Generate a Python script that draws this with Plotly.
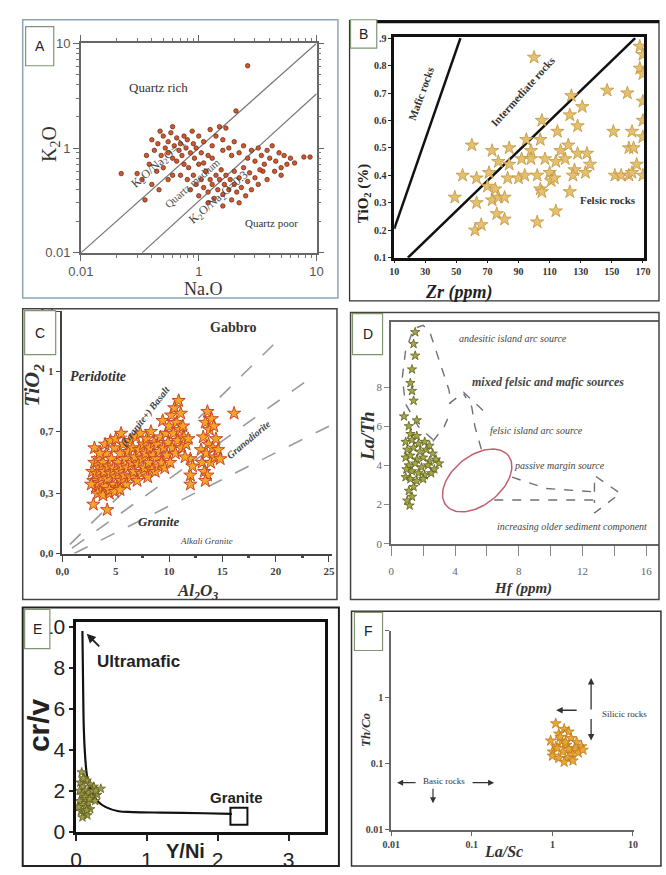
import numpy as np
import plotly.graph_objects as go

W, H = 666, 875
SERIF = "Liberation Serif"
SANS = "Liberation Sans"

# ---------------- data ----------------
# Panel A : K2O vs Na2O
A_na = [0.40,0.42,0.45,0.48,0.50,0.52,0.55,0.55,0.58,0.60,
        0.62,0.65,0.65,0.68,0.70,0.72,0.75,0.75,0.78,0.80,
        0.82,0.85,0.88,0.90,0.92,0.95,1.00,1.00,1.05,1.10,
        1.15,1.20,1.25,1.30,0.38,0.36,0.44,0.50,0.47,0.60,
        1.40,1.50,1.60,1.70,1.80,0.33,0.40,0.46,0.55,0.60,
        0.70,0.35,
        0.80,0.85,0.90,0.95,1.00,1.05,1.10,1.15,1.20,1.25,
        1.30,1.35,1.40,1.45,1.50,1.55,1.60,1.65,1.70,1.80,
        1.85,1.90,2.00,2.00,2.10,2.20,2.30,2.40,2.50,2.60,
        2.70,2.80,3.00,3.20,3.50,3.80,2.20,1.20,1.60,
        2.2,2.4,2.6,2.8,3.0,3.2,3.4,3.6,3.8,4.0,
        4.2,4.5,4.8,5.0,5.3,5.6,6.0,4.4,5.0,3.3,
        6.5,7.8,8.8,1.6,1.9,2.0,1.3,1.1,
        0.22,0.30,2.6,2.07]
A_k = [1.20,0.95,1.10,0.85,1.30,1.00,0.90,1.15,1.40,0.80,
       1.05,1.25,0.75,0.95,1.10,0.85,1.30,0.70,1.00,1.20,
       0.65,0.90,1.45,1.10,0.80,1.00,1.30,0.70,0.90,1.15,
       0.60,0.85,1.50,1.05,0.70,0.85,0.60,0.65,1.45,1.60,
       1.30,1.60,1.20,1.55,1.00,0.50,0.45,0.40,0.50,0.55,
       0.55,0.32,
       0.50,0.40,0.55,0.45,0.35,0.50,0.42,0.60,0.38,0.50,
       0.45,0.33,0.55,0.40,0.50,0.62,0.36,0.45,0.55,0.40,
       0.50,0.32,0.45,0.60,0.38,0.52,0.42,0.65,0.35,0.48,
       0.58,0.40,0.52,0.45,0.60,0.50,0.30,0.30,0.28,
       0.90,1.05,0.80,0.95,0.75,1.00,0.85,0.70,0.95,0.80,
       1.05,0.75,0.90,0.65,0.85,0.70,0.80,0.60,0.55,0.62,
       0.72,0.82,0.82,0.95,0.85,1.15,0.80,0.72,
       0.57,0.57,6.1,2.26]
A_line1_x = [0.1, 10]; A_line1_y = [0.1, 10]
A_line2_x = [0.33, 10]; A_line2_y = [0.1, 3.3]
A_tickvals = [0.1, 1, 10]; A_ticktext = ["0.01", "1", "10"]

# Panel B : TiO2 vs Zr
B_zr = [100,60,54,49,63,63,62,66,71,73,
        77,70,75,73,77,81,76,81,84,84,
        83,90,94,92,98,98,95,102,104,105,
        102,105,104,107,110,111,113,115,114,117,
        114,120,122,123,124,123,126,125,128,128,
        131,133,134,136,147,151,152,156,161,163,
        160,163,161,164,168,170,168,170,170,170,
        170,170,166]
B_ti = [0.83,0.51,0.40,0.32,0.39,0.30,0.20,0.22,0.41,0.49,
        0.45,0.36,0.35,0.31,0.32,0.32,0.26,0.24,0.50,0.44,
        0.39,0.39,0.40,0.46,0.49,0.46,0.53,0.40,0.35,0.34,
        0.23,0.60,0.53,0.46,0.41,0.38,0.39,0.56,0.45,0.49,
        0.27,0.46,0.51,0.62,0.69,0.34,0.42,0.40,0.48,0.58,
        0.65,0.41,0.48,0.44,0.71,0.56,0.40,0.40,0.40,0.41,
        0.70,0.56,0.50,0.50,0.87,0.84,0.79,0.77,0.67,0.60,
        0.54,0.40,0.44]
B_mafic_x = [10, 52.6]; B_mafic_y = [0.205, 0.9]
B_felsic_x = [18.8, 165]; B_felsic_y = [0.1, 0.9]
B_ticks_x = [10, 30, 50, 70, 90, 110, 130, 150, 170]
B_ticks_y = [0.1, 0.2, 0.3, 0.4, 0.5, 0.6, 0.7, 0.8, 0.9]
B_ticktext_y = ["0.1", "0.2", "0.3", "0.4", "0.5", "0.6", "0.7", "0.8", ".9"]

# Panel C : TiO2 vs Al2O3
C_al = [2.8,2.9,3.0,3.1,3.2,3.3,3.4,3.5,3.6,3.7,3.8,3.9,4.0,4.1,4.2,4.3,4.4,4.5,4.6,4.7,
        4.8,4.9,5.0,5.1,5.2,5.3,5.4,5.5,5.6,5.7,5.8,5.9,6.0,
        3.0,3.5,4.0,4.5,5.0,5.5,2.7,3.3,3.8,4.4,4.9,5.4,
        6.1,6.2,6.3,6.4,6.5,6.6,6.7,6.8,6.9,7.0,7.1,7.2,7.3,7.4,7.5,7.6,7.7,7.8,7.9,8.0,
        8.1,8.2,8.3,8.4,8.5,8.6,8.7,8.8,8.9,9.0,9.1,9.2,9.3,9.4,9.5,9.6,9.7,9.8,9.9,10.0,
        10.1,10.2,10.3,10.4,10.5,10.6,10.7,10.8,10.9,11.0,11.1,11.2,11.3,11.4,11.6,11.8,
        12.0,12.0,12.0,12.2,11.5,
        13.0,13.1,13.2,13.3,13.4,13.5,13.6,13.6,13.7,13.8,13.9,14.0,14.1,14.2,14.3,14.4,
        14.6,14.8,13.4,
        2.9,4.2,16.1]
C_ti = [0.45,0.40,0.50,0.36,0.44,0.52,0.39,0.47,0.34,0.42,0.50,0.45,0.37,0.55,0.41,0.48,0.33,0.44,0.52,0.38,
        0.47,0.58,0.42,0.36,0.50,0.45,0.55,0.40,0.48,0.60,0.43,0.52,0.38,
        0.58,0.55,0.60,0.62,0.63,0.66,0.38,0.33,0.32,0.35,0.34,0.35,
        0.47,0.56,0.62,0.42,0.50,0.58,0.45,0.53,0.64,0.40,0.49,0.57,0.66,0.44,0.52,0.60,0.47,0.55,0.63,0.42,
        0.50,0.58,0.67,0.46,0.54,0.61,0.45,0.52,0.60,0.48,0.56,0.64,0.50,0.73,0.58,0.47,0.66,0.54,0.61,0.70,
        0.50,0.76,0.58,0.66,0.80,0.55,0.72,0.62,0.84,0.68,0.77,0.58,0.70,0.64,0.60,0.63,
        0.52,0.43,0.38,0.48,0.53,
        0.57,0.50,0.64,0.45,0.72,0.55,0.78,0.43,0.60,0.68,0.50,0.74,0.58,0.70,0.53,0.63,
        0.57,0.52,0.40,
        0.27,0.24,0.77]
C_line1_x = [0.7, 20.7]; C_line1_y = [0.05, 1.2]
C_line2_x = [0.9, 23.4]; C_line2_y = [0.03, 0.97]
C_line3_x = [1.1, 25.0]; C_line3_y = [0.0, 0.70]
C_ticks_x = [0, 5, 10, 15, 20, 25]; C_ticktext_x = ["0,0", "5", "10", "15", "20", "25"]
C_ticks_y = [0, 0.33, 0.67, 1.0, 1.33]; C_ticktext_y = ["0,0", "0,3", "0,7", "1", "1,3"]

# Panel D : La/Th vs Hf
D_hf = [1.5,1.4,1.5,1.3,1.2,1.4,1.3,0.8,1.6,1.1,1.2,
        0.9,1.3,1.7,2.1,1.0,1.4,1.8,2.2,2.6,0.9,1.2,1.6,2.0,2.4,2.8,
        1.1,1.5,1.9,2.3,2.7,3.0,1.3,1.7,2.1,2.5,0.9,1.2,1.6,2.0,
        1.4,1.1,1.3,1.0,1.15,1.6,2.4,0.95]
D_lath = [10.8,10.2,9.6,8.9,8.2,7.3,7.8,6.5,6.3,6.0,5.6,
          5.2,5.3,5.1,5.2,4.8,4.9,4.7,4.8,4.6,4.4,4.5,4.3,4.4,4.2,4.3,
          4.0,4.1,3.9,4.0,3.8,4.1,3.7,3.6,3.5,3.6,3.4,3.3,3.2,3.3,
          2.9,2.7,2.4,2.2,1.95,5.5,5.0,3.8]
D_andesitic_x = [2.61,1.70,0.89,0.69,0.89,1.40,2.00,2.41,2.82,3.22,3.63,3.73]
D_andesitic_y = [5.32,5.98,7.15,8.48,9.82,10.98,11.15,10.82,9.82,8.82,7.82,7.15]
D_mixed_x = [2.61,3.32,3.73]; D_mixed_y = [5.23,5.98,6.73]
D_felsic_x = [5.65,5.25,5.05,4.54]; D_felsic_y = [4.82,5.98,6.98,7.65]
D_felsic_head_x = [3.63,4.54,5.86]; D_felsic_head_y = [7.15,7.73,6.73]
D_upper_x = [7.58,9.71,12.75]; D_upper_y = [3.40,2.82,2.65]
D_lower_x = [6.46,12.75]; D_lower_y = [2.23,2.23]
D_head_x = [12.75,12.75,14.37,12.75,12.75]; D_head_y = [2.65,3.48,2.57,1.57,2.23]
D_ellipse_center = (5.39, 3.23)
D_ticks_x = [0, 4, 8, 12, 16]; D_ticks_y = [0, 2, 4, 6, 8]

# Panel E : Cr/V vs Y/Ni
E_yni = [0.08,0.12,0.06,0.15,0.20,0.10,0.25,0.05,0.13,0.18,
         0.30,0.08,0.22,0.12,0.05,0.17,0.27,0.09,0.14,0.20,
         0.07,0.11,0.16,0.09,0.13,0.23,0.04,0.19,0.10,0.28,
         0.35,0.15]
E_crv = [2.9,2.6,2.4,2.5,2.3,2.2,2.2,2.0,2.0,1.9,
         1.8,1.8,1.7,1.6,1.5,1.4,1.5,1.3,1.2,1.1,
         1.0,0.9,0.8,0.7,1.7,2.0,1.2,1.6,2.6,2.0,
         2.1,1.05]
E_curve_x = [0.09,0.10,0.11,0.13,0.16,0.22,0.30,0.42,0.60,0.80,1.20,1.80,2.20]
E_curve_y = [9.8,7.0,5.0,3.6,2.6,1.9,1.5,1.2,1.0,0.96,0.93,0.90,0.87]
E_granite_x = [2.3]; E_granite_y = [0.75]
E_ticks_x = [0, 1, 2, 3]; E_ticks_y = [0, 2, 4, 6, 8, 10]

# Panel F : Th/Co vs La/Sc
F_lasc = [1.10,1.40,1.20,1.60,0.95,1.30,1.70,2.00,1.10,1.50,
          1.90,2.30,1.00,1.35,1.75,2.10,1.20,1.55,1.40,1.80,
          1.00,1.25,1.60,1.45,2.40,1.15]
F_thco = [0.40,0.33,0.28,0.30,0.22,0.22,0.24,0.21,0.18,0.19,
          0.17,0.18,0.15,0.15,0.14,0.145,0.12,0.12,0.105,0.11,
          0.13,0.25,0.165,0.21,0.16,0.17]
F_ticks = [0.01, 0.1, 1, 10]
F_ticktext_x = ["0.01", "0.1", "1", "10"]
F_ticktext_y = ["0.01", "0.1", "1", ""]

# ---------------- helpers ----------------
def X(p):
    return p / W


def Y(p):
    return 1 - p / H


fig = go.Figure()
shapes = []
anns = []


def rect(x0, y0, x1, y1, color, width, fill="rgba(0,0,0,0)"):
    shapes.append(dict(type="rect", xref="paper", yref="paper", x0=X(x0), x1=X(x1),
                       y0=Y(y1), y1=Y(y0), line=dict(color=color, width=width),
                       fillcolor=fill, layer="above"))


def hline(x0, x1, y, color, width):
    shapes.append(dict(type="line", xref="paper", yref="paper", x0=X(x0), x1=X(x1),
                       y0=Y(y), y1=Y(y), line=dict(color=color, width=width), layer="above"))


def text(x, y, t, size=12, family=SERIF, color="#222", angle=0, weight="normal",
         style="normal", xanchor="center"):
    anns.append(dict(x=X(x), y=Y(y), xref="paper", yref="paper", text=t, showarrow=False,
                     textangle=angle, xanchor=xanchor, yanchor="middle",
                     font=dict(family=family, size=size, color=color, weight=weight, style=style)))


def arrow(x1, y1, x0, y0, color="#222", width=1.2, head=2, size=1):
    anns.append(dict(x=X(x1), y=Y(y1), xref="paper", yref="paper", ax=x0 - x1, ay=y0 - y1,
                     text="", showarrow=True, arrowhead=head, arrowsize=size,
                     arrowcolor=color, arrowwidth=width))


def sc(i, **kw):
    s = "" if i == 1 else str(i)
    fig.add_trace(go.Scatter(xaxis="x" + s, yaxis="y" + s, showlegend=False,
                             hoverinfo="skip", **kw))


def axes(i, xd, yd, xa, ya):
    s = "" if i == 1 else str(i)
    xa.update(domain=[X(xd[0]), X(xd[1])], anchor="y" + s, showgrid=False, zeroline=False)
    ya.update(domain=[Y(yd[1]), Y(yd[0])], anchor="x" + s, showgrid=False, zeroline=False)
    layout_axes["xaxis" + s] = xa
    layout_axes["yaxis" + s] = ya


layout_axes = {}
log_minor = [0.2, 0.3, 0.4, 0.5, 0.6, 0.7, 0.8, 0.9, 2, 3, 4, 5, 6, 7, 8, 9]

# ---------------- Panel A ----------------
fA = dict(family=SANS, size=13, color="#555")
axA = dict(type="log", range=[-1, 1], tickvals=A_tickvals, ticktext=A_ticktext,
           ticks="outside", ticklen=6, tickcolor="#666", showline=True, linecolor="#666",
           linewidth=1.5, mirror="allticks", tickfont=fA,
           minor=dict(tickvals=log_minor, ticks="outside", ticklen=3, tickcolor="#777"))
axes(1, (70, 313), (37, 251), dict(axA), dict(axA))
sc(1, x=A_line1_x, y=A_line1_y, mode="lines", line=dict(color="#777", width=1.2))
sc(1, x=A_line2_x, y=A_line2_y, mode="lines", line=dict(color="#777", width=1.2))
sc(1, x=A_na, y=A_k, mode="markers",
   marker=dict(size=4.5, color="#d4572b", line=dict(color="#5b2514", width=0.7)))
text(38, 140, "K<sub>2</sub>O", size=20, color="#333", angle=-90)
text(196, 288, "Na.O", size=18, color="#333")
text(150, 82, "Quartz rich", size=13, color="#333")
text(267, 221, "Quartz poor", size=11, color="#333")
text(150, 160, "K<sub>2</sub>O/Na<sub>2</sub>O= 1", size=12, color="#444", angle=-41)
text(185, 180, "Quartz medium", size=11, color="#555", angle=-41)
text(212, 195, "K<sub>2</sub>O/Na<sub>2</sub>O=0.3", size=12, color="#444", angle=-41)

# ---------------- Panel B ----------------
fB = dict(family=SERIF, size=10, color="#333", weight="bold")
axes(2, (393, 651), (31, 256),
     dict(range=[10, 171], tickvals=B_ticks_x, ticks="outside", ticklen=3, tickcolor="#222",
          showline=True, linecolor="#111", linewidth=2.5, mirror=True, tickfont=fB),
     dict(range=[0.1, 0.903], tickvals=B_ticks_y, ticktext=B_ticktext_y, ticks="outside",
          ticklen=3, tickcolor="#222", showline=True, linecolor="#111", linewidth=2.5,
          mirror=True, tickfont=fB))
sc(2, x=B_mafic_x, y=B_mafic_y, mode="lines", line=dict(color="#111", width=2.5))
sc(2, x=B_felsic_x, y=B_felsic_y, mode="lines", line=dict(color="#111", width=2.5))
sc(2, x=B_zr, y=B_ti, mode="markers",
   marker=dict(symbol="star", size=10, color="#e4c070", line=dict(color="#c0953c", width=0.8)))
text(362, 190, "TiO<sub>2</sub> (%)", size=15, weight="bold", angle=-90, color="#222")
text(460, 292, "Zr (ppm)", size=18, weight="bold", style="italic", color="#222")
text(421, 88, "Mafic rocks", size=11, weight="bold", angle=-70, color="#333")
text(526, 86, "Intermediate rocks", size=11, weight="bold", angle=-48, color="#333")
text(613, 197, "Felsic rocks", size=11, weight="bold", color="#333")

# ---------------- Panel C ----------------
fC = dict(family=SERIF, size=11, color="#444", weight="bold")
axes(3, (51, 329), (310, 558),
     dict(range=[0, 25.3], tickvals=C_ticks_x, ticktext=C_ticktext_x, ticks="outside",
          ticklen=7, tickcolor="#444", showline=True, linecolor="#444", linewidth=1.5,
          tickfont=fC, minor=dict(tickvals=[2.5, 7.5, 12.5, 17.5, 22.5], ticks="outside",
                                  ticklen=3, tickwidth=3, tickcolor="#444")),
     dict(range=[0, 1.335], tickvals=C_ticks_y, ticktext=C_ticktext_y, ticks="outside",
          ticklen=5, tickcolor="#444", showline=True, linecolor="#444", linewidth=1.5,
          tickfont=fC))
for lx, ly in ((C_line1_x, C_line1_y), (C_line2_x, C_line2_y), (C_line3_x, C_line3_y)):
    sc(3, x=lx, y=ly, mode="lines", line=dict(color="#9a9a9a", width=1.6, dash="longdash"))
sc(3, x=C_al, y=C_ti, mode="markers",
   marker=dict(symbol="star", size=10, color="#f5a524", line=dict(color="#c8452a", width=1)))
text(21, 386, "TiO<sub>2</sub>", size=22, weight="bold", style="italic", angle=-90, color="#333")
text(190, 597, "Al<sub>2</sub>O<sub>3</sub>", size=17, weight="bold", style="italic", color="#333")
text(227, 327, "Gabbro", size=14, weight="bold", color="#333")
text(88, 377, "Peridotite", size=14, weight="bold", style="italic", color="#333")
text(137, 418, "(Granite+) Basalt", size=10, weight="bold", style="italic", angle=-52, color="#444")
text(243, 442, "Granodiorite", size=10, weight="bold", style="italic", angle=-40, color="#444")
text(150, 525, "Granite", size=13, weight="bold", style="italic", color="#333")
text(200, 545, "Alkali Granite", size=9, style="italic", color="#444")

# ---------------- Panel D ----------------
fD = dict(family=SERIF, size=11, color="#666")
axes(4, (390, 666), (322, 548),
     dict(range=[0, 16.8], tickvals=D_ticks_x, ticks="outside", ticklen=10, tickcolor="#888",
          showline=True, linecolor="#666", linewidth=2, mirror=True, tickfont=fD,
          ticklabelstandoff=6,
          minor=dict(tickvals=[2, 6, 10, 14], ticks="outside", ticklen=10, tickcolor="#888")),
     dict(range=[0, 11.3], tickvals=D_ticks_y, ticks="outside", ticklen=5, tickcolor="#888",
          showline=True, linecolor="#666", linewidth=2, tickfont=fD))
dash_style = dict(color="#6e7078", width=1.4, dash="dash")
for lx, ly in ((D_andesitic_x, D_andesitic_y), (D_mixed_x, D_mixed_y),
               (D_felsic_x, D_felsic_y), (D_felsic_head_x, D_felsic_head_y),
               (D_upper_x, D_upper_y), (D_lower_x, D_lower_y), (D_head_x, D_head_y)):
    sc(4, x=lx, y=ly, mode="lines", line=dash_style)
t = np.linspace(0, 2 * np.pi, 90)
th = np.deg2rad(-38)
dxp = 41 * np.cos(t) * np.cos(th) - 25 * np.sin(t) * np.sin(th)
dyp = 41 * np.cos(t) * np.sin(th) + 25 * np.sin(t) * np.cos(th)
sc(4, x=D_ellipse_center[0] + dxp / 16.45, y=D_ellipse_center[1] - dyp / 20.0, mode="lines",
   line=dict(color="#c0606e", width=1.5))
sc(4, x=D_hf, y=D_lath, mode="markers",
   marker=dict(symbol="star", size=7, color="#a6a845", line=dict(color="#5c5e1e", width=0.8)))
text(366, 438, "La/Th", size=19, weight="bold", style="italic", angle=-90, color="#333")
text(526, 594, "Hf (ppm)", size=15, weight="bold", style="italic", color="#333")
text(515, 338, "andesitic island arc source", size=10, style="italic", color="#444")
text(552, 383, "mixed felsic and mafic sources", size=12, weight="bold", style="italic", color="#444")
text(540, 432, "felsic island arc source", size=10, style="italic", color="#444")
text(563, 468, "passive margin source", size=10, style="italic", color="#444")
text(497, 530, "increasing older sediment component", size=10, style="italic", color="#444",
     xanchor="left")

# ---------------- Panel E ----------------
fE = dict(family=SANS, size=21, color="#222")
axes(5, (65, 322), (628, 842),
     dict(range=[0, 3.52], tickvals=E_ticks_x, ticks="outside", ticklen=7, tickwidth=2,
          tickcolor="#222", showline=True, linecolor="#111", linewidth=2.5, mirror=True,
          tickfont=fE),
     dict(range=[0, 10.24], tickvals=E_ticks_y, ticks="outside", ticklen=4, tickwidth=2,
          tickcolor="#222", showline=True, linecolor="#111", linewidth=2.5, mirror=True,
          tickfont=fE, ticklabelstandoff=0))
sc(5, x=E_curve_x, y=E_curve_y, mode="lines", line=dict(color="#111", width=2.2, shape="spline"))
sc(5, x=E_yni, y=E_crv, mode="markers",
   marker=dict(symbol="star", size=7, color="#9e9c44", line=dict(color="#5e5c20", width=0.8)))
sc(5, x=E_granite_x, y=E_granite_y, mode="markers",
   marker=dict(symbol="square-open", size=17, color="#111", line=dict(color="#111", width=2)))
text(27, 733, "cr/v", size=30, family=SANS, weight="bold", angle=-90, color="#222")
text(178, 862, "Y/Ni", size=20, family=SANS, weight="bold", color="#222")
text(129, 668, "Ultramafic", size=17, family=SANS, weight="bold", color="#222")
text(230, 807, "Granite", size=15, family=SANS, weight="bold", color="#222")
arrow(76, 640, 90, 654, color="#222", width=1.8)

# ---------------- Panel F ----------------
fF = dict(family=SERIF, size=10, color="#444", weight="bold")
axes(6, (390, 640), (637, 840),
     dict(type="log", range=[-2, 1.01], tickvals=F_ticks, ticktext=F_ticktext_x, ticks="outside",
          ticklen=4, tickcolor="#666", showline=True, linecolor="#666", linewidth=2, tickfont=fF),
     dict(type="log", range=[-2, 1], tickvals=F_ticks, ticktext=F_ticktext_y, ticks="outside",
          ticklen=4, tickcolor="#666", showline=True, linecolor="#666", linewidth=2, tickfont=fF))
sc(6, x=F_lasc, y=F_thco, mode="markers",
   marker=dict(symbol="star", size=8, color="#e8a838", line=dict(color="#c07818", width=0.8)))
text(364, 738, "Th/Co", size=13, weight="bold", style="italic", angle=-90, color="#333")
text(506, 862, "La/Sc", size=16, weight="bold", style="italic", color="#333")
text(630, 722, "Silicic rocks", size=9, color="#333")
text(444, 790, "Basic rocks", size=9, color="#333")
arrow(596, 685, 596, 718, color="#333", width=1.3)
arrow(560, 718, 582, 718, color="#333", width=1.3)
arrow(596, 749, 596, 726, color="#333", width=1.3)
arrow(396, 792, 416, 792, color="#333", width=1.2)
arrow(496, 792, 473, 792, color="#333", width=1.2)
arrow(433, 813, 433, 797, color="#333", width=1.2)

# ---------------- panel frames and label boxes ----------------
rect(10, 13, 335, 297, "#8ca3b5", 1.5)
rect(347, 14, 666, 300, "#333", 1.3)
hline(375, 666, 15, "#111", 3)
rect(10, 308, 334, 605, "#444", 1.5)
rect(348, 312, 666, 605, "#444", 1.5)
rect(10, 613, 336, 877, "#222", 2)
rect(349, 617, 668, 877, "#333", 1.5)

boxes = [("A", 13, 20, 42, 60), ("B", 348, 13, 375, 42), ("C", 12, 310, 44, 355),
         ("D", 350, 313, 381, 355), ("E", 12, 615, 38, 655), ("F", 352, 618, 381, 657)]
for lab, x0, y0, x1, y1 in boxes:
    rect(x0, y0, x1, y1, "#7f9670", 1.2, fill="white")
    text((x0 + x1) / 2, (y0 + y1) / 2, lab, size=14, family=SANS, color="#222")

fig.update_layout(width=W, height=H, margin=dict(l=0, r=0, t=0, b=0),
                  paper_bgcolor="white", plot_bgcolor="rgba(0,0,0,0)",
                  showlegend=False, shapes=shapes, annotations=anns, **layout_axes)
fig.write_html("out.html")
